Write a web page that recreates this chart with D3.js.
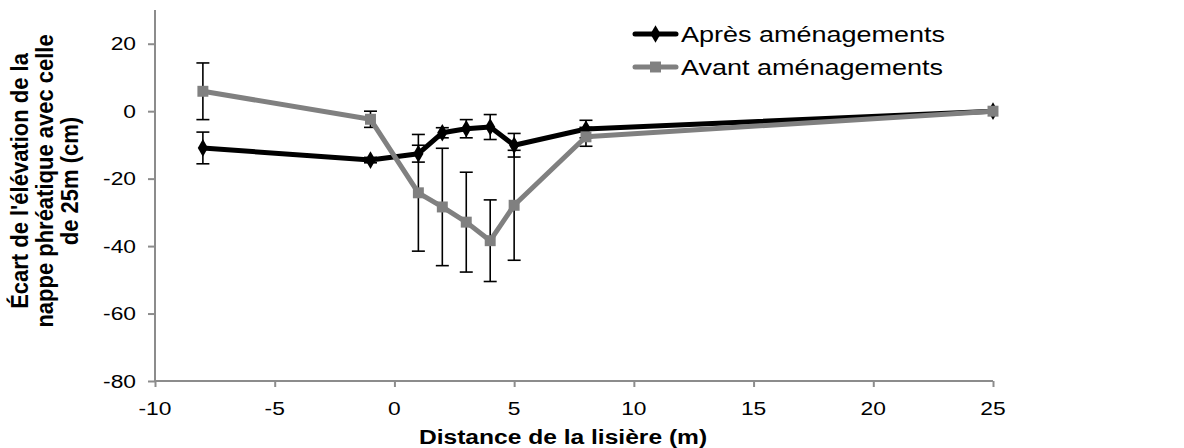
<!DOCTYPE html>
<html><head><meta charset="utf-8">
<script src="https://cdn.jsdelivr.net/npm/d3@7"></script>
<style>
body{margin:0;background:#fff;}
text{font-family:"Liberation Sans",Arial,sans-serif;fill:#000;}
</style></head>
<body><svg id="c" width="1184" height="448"></svg>
<script>
const distances = [-8, -1, 1, 2, 3, 4, 5, 8, 25];
const apres = [-10.9, -14.5, -12.6, -6.4, -5.2, -4.7, -10.1, -5.3, 0];
const apresErr = [4.7, 0.8, 2.5, 1.5, 2.7, 3.7, 3.5, 2.6, 0];
const avant = [5.9, -2.4, -24.2, -28.4, -32.9, -38.4, -27.9, -7.6, 0];
const avantErr = [8.4, 2.4, 17.3, 17.4, 14.8, 12.1, 16.3, 2.8, 0];
const xTicks = [-10, -5, 0, 5, 10, 15, 20, 25];
const yTicks = [-80, -60, -40, -20, 0, 20];
const seriesNames = ["Après aménagements", "Avant aménagements"];
const xTitle = "Distance de la lisière (m)";
const yTitleLines = ["Écart de l'élévation de la", "nappe phréatique avec celle", "de 25m (cm)"];

const SX = 1.2; // horizontal stretch of the text in the reference
const svg = d3.select("#c");
const L = 155, R = 993, T = 10, B = 381;
const x = d3.scaleLinear().domain([-10, 25]).range([L, R]);
const y = d3.scaleLinear().domain([-80, 30]).range([B, T]);
const axisCol = "#8c8c8c";

function label(px, py, txt, opts) {
  return svg.append("text")
    .attr("transform", `translate(${px},${py}) scale(${SX},1)`)
    .attr("text-anchor", opts.anchor || "middle")
    .attr("dy", opts.dy || "0.35em")
    .attr("font-size", opts.size || 19)
    .attr("font-weight", opts.bold ? "bold" : null)
    .text(txt);
}

// axes (lines + ticks via d3 axis, labels separately)
const gx = svg.append("g").attr("transform", `translate(0,${B})`)
  .call(d3.axisBottom(x).tickValues(xTicks).tickSize(6).tickFormat(""));
const gy = svg.append("g").attr("transform", `translate(${L},0)`)
  .call(d3.axisLeft(y).tickValues(yTicks).tickSize(7).tickFormat(""));
gy.select(".domain").attr("d", `M0,${T}V${B}`);
gx.select(".domain").attr("d", `M${L},0H${R}`);
[gx, gy].forEach(g => g.selectAll(".domain, .tick line").attr("stroke", axisCol).attr("stroke-width", 2));

xTicks.forEach(v => label(x(v), B + 27, String(v), {size: 19}));
yTicks.forEach(v => label(L - 19, y(v), String(v), {size: 19, anchor: "end"}));

// titles
label(563, 437, xTitle, {size: 20.5, bold: true});
const yt = svg.append("text").attr("transform", `translate(45,181) scale(1.1,1) rotate(-90)`)
  .attr("text-anchor", "middle").attr("font-weight", "bold").attr("font-size", 22);
yTitleLines.forEach((t, i) => yt.append("tspan").attr("x", 0).attr("y", (i - 1) * 22.7 + 7.5).text(t));

const series = [
  {name: seriesNames[0], vals: apres, err: apresErr, color: "#000000", marker: d3.symbolDiamond, size: 90},
  {name: seriesNames[1], vals: avant, err: avantErr, color: "#808080", marker: d3.symbolSquare, size: 120}
];

// error bars
series.forEach(s => {
  const g = svg.append("g");
  distances.forEach((d, i) => {
    if (!s.err[i]) return;
    const cx = x(d), y1 = y(s.vals[i] + s.err[i]), y2 = y(s.vals[i] - s.err[i]);
    g.append("line").attr("x1", cx).attr("x2", cx).attr("y1", y1).attr("y2", y2).attr("stroke", "#000").attr("stroke-width", 1.6);
    [y1, y2].forEach(yy => g.append("line").attr("x1", cx - 6.5).attr("x2", cx + 6.5).attr("y1", yy).attr("y2", yy).attr("stroke", "#000").attr("stroke-width", 1.6));
  });
});

const line = d3.line().x(d => x(d[0])).y(d => y(d[1]));
series.forEach(s => {
  const pts = distances.map((d, i) => [d, s.vals[i]]);
  svg.append("path").attr("d", line(pts)).attr("fill", "none").attr("stroke", s.color).attr("stroke-width", 5).attr("stroke-linejoin", "round");
  svg.append("g").selectAll("path").data(pts).join("path")
    .attr("transform", d => `translate(${x(d[0])},${y(d[1])})`)
    .attr("d", d3.symbol().type(s.marker).size(s.size)()).attr("fill", s.color);
});

// legend
series.forEach((s, i) => {
  const ly = 34 + i * 33;
  const g = svg.append("g");
  g.append("line").attr("x1", 635).attr("x2", 676).attr("y1", ly).attr("y2", ly).attr("stroke", s.color).attr("stroke-width", 5).attr("stroke-linecap", "round");
  g.append("path").attr("transform", `translate(655.5,${ly})`).attr("d", d3.symbol().type(s.marker).size(s.size)()).attr("fill", s.color);
  label(681, ly, s.name, {size: 22.5, anchor: "start"});
});
</script></body></html>
